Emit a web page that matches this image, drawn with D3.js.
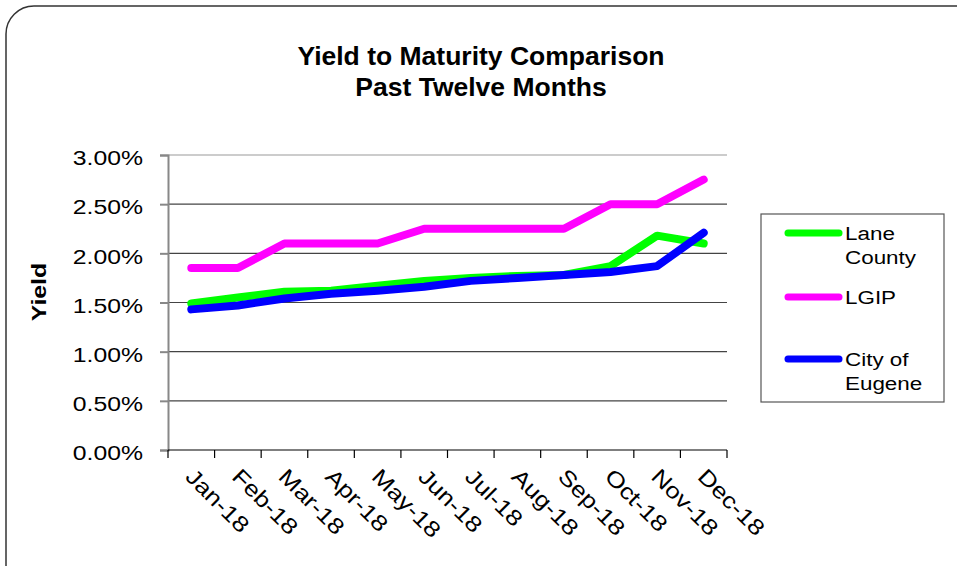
<!DOCTYPE html>
<html><head><meta charset="utf-8">
<script src="https://cdn.jsdelivr.net/npm/d3@7"></script>
<style>body{margin:0;background:#fff}svg{display:block}text{font-family:"Liberation Sans",Arial,sans-serif}</style>
</head><body>
<script>
const months = ["Jan-18","Feb-18","Mar-18","Apr-18","May-18","Jun-18","Jul-18","Aug-18","Sep-18","Oct-18","Nov-18","Dec-18"];
const laneCounty = [1.49,1.55,1.61,1.62,1.67,1.72,1.75,1.77,1.78,1.87,2.18,2.10];
const lgip = [1.85,1.85,2.10,2.10,2.10,2.25,2.25,2.25,2.25,2.50,2.50,2.75];
const cityOfEugene = [1.43,1.47,1.54,1.59,1.62,1.66,1.72,1.75,1.78,1.81,1.87,2.21];
const yTicks = [0,0.5,1,1.5,2,2.5,3];
const seriesNames = ["Lane County","LGIP","City of Eugene"];
const seriesColors = ["#00ff00","#ff00ff","#0000ff"];
const seriesData = [laneCounty, lgip, cityOfEugene];

const W=957,H=566, SX=1.18;
const svg=d3.select("body").append("svg").attr("width",W).attr("height",H);
svg.append("rect").attr("x",6).attr("y",6).attr("width",990).attr("height",600).attr("rx",28)
  .attr("fill","#fff").attr("stroke","#333").attr("stroke-width",1.5);

const L=168,R=727,T=155,B=450;
const x=d3.scaleBand().domain(months).range([L,R]);
const y=d3.scaleLinear().domain([0,3]).range([B,T]);

// gridlines
svg.append("g").selectAll("line").data(yTicks.slice(1)).join("line")
  .attr("x1",L).attr("x2",R).attr("y1",d=>y(d)).attr("y2",d=>y(d))
  .attr("stroke",(d,i)=>d===3?"#999":"#444").attr("stroke-width",1.2);

// y axis
const ya=svg.append("g").attr("transform",`translate(${L},0)`)
  .call(d3.axisLeft(y).tickValues(yTicks).tickFormat(d=>d.toFixed(2)+"%").tickSize(8).tickPadding(16));
ya.select(".domain").attr("stroke","#888").attr("stroke-width",2);
ya.selectAll(".tick line").attr("stroke","#888").attr("stroke-width",2);
ya.selectAll(".tick text").attr("font-size",21).attr("fill","#000").attr("x",0).attr("dy","0.42em")
  .attr("transform",`translate(-25,1) scale(${SX},1)`)
  .style("font-family","Liberation Sans, Arial, sans-serif");

// x axis
const xa=svg.append("g").attr("transform",`translate(0,${B})`);
xa.append("line").attr("x1",L).attr("x2",R).attr("stroke","#000").attr("stroke-width",1.2);
const bounds=months.map(m=>x(m)).concat([R]);
xa.selectAll("line.t").data(bounds).join("line").attr("class","t")
  .attr("x1",d=>d).attr("x2",d=>d).attr("y1",0).attr("y2",8).attr("stroke","#000").attr("stroke-width",1.2);
xa.selectAll("text").data(months).join("text")
  .attr("transform",d=>`translate(${x(d)+x.bandwidth()/2-3},${24}) rotate(45) scale(${SX},1)`)
  .attr("font-size",22).attr("text-anchor","start").attr("dominant-baseline","middle").text(d=>d);

// lines
const line=d3.line().x((d,i)=>x(months[i])+x.bandwidth()/2).y(d=>y(d));
seriesData.forEach((s,k)=>{
  svg.append("path").datum(s).attr("d",line).attr("fill","none")
    .attr("stroke",seriesColors[k]).attr("stroke-width",8)
    .attr("stroke-linecap","round").attr("stroke-linejoin","round");
});

// titles
svg.append("text").attr("x",481).attr("y",65).attr("text-anchor","middle").attr("font-size",26.5).attr("font-weight","bold").text("Yield to Maturity Comparison");
svg.append("text").attr("x",481).attr("y",96).attr("text-anchor","middle").attr("font-size",26.5).attr("font-weight","bold").text("Past Twelve Months");
svg.append("text").attr("transform",`translate(46,292) rotate(-90) scale(${SX},1)`).attr("text-anchor","middle").attr("font-size",21).attr("font-weight","bold").text("Yield");

// legend
svg.append("rect").attr("x",761).attr("y",214).attr("width",183).attr("height",188).attr("fill","#fff").attr("stroke","#555").attr("stroke-width",1.2);
const legY=[233,297,359];
const legLines=[["Lane","County"],["LGIP"],["City of","Eugene"]];
seriesNames.forEach((n,k)=>{
  svg.append("line").attr("x1",788).attr("x2",839).attr("y1",legY[k]).attr("y2",legY[k])
    .attr("stroke",seriesColors[k]).attr("stroke-width",7).attr("stroke-linecap","round");
  const t=svg.append("text").attr("transform",`translate(845,${legY[k]+7}) scale(${SX},1)`).attr("font-size",19);
  legLines[k].forEach((s,j)=>t.append("tspan").attr("x",0).attr("dy",j?24:0).text(s));
});
</script>
</body></html>
